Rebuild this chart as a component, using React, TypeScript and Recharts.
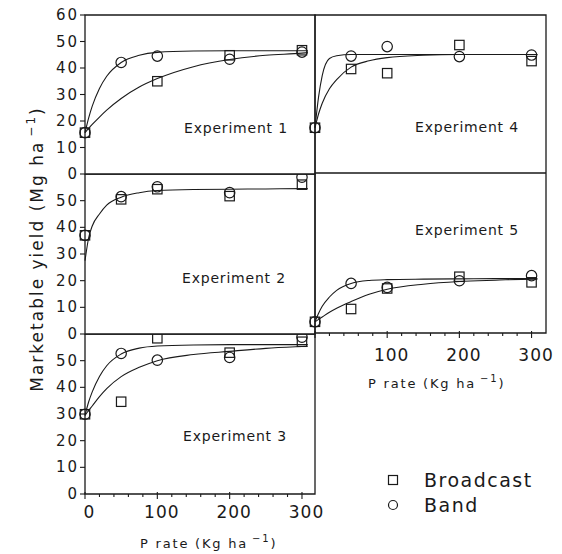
import React from 'react';
import { ComposedChart, Line, Scatter, XAxis, YAxis, ReferenceArea } from 'recharts';

const FONT = '"DejaVu Sans", Verdana, sans-serif';
const INK = '#1a1a1a';

// P rates (kg/ha) where yields were measured
const pRates = [0, 50, 100, 200, 300];

// Marketable yield (Mg/ha) — markers
const exp1Broadcast = [15.6, null, 35.0, 44.8, 46.7];
const exp1Band = [15.6, 42.1, 44.5, 43.3, 46.0];
const exp2Broadcast = [37.0, 50.5, 54.3, 51.7, 56.0];
const exp2Band = [37.0, 51.5, 55.2, 53.0, 58.8];
const exp3Broadcast = [29.9, 34.6, 58.4, 53.0, 57.1];
const exp3Band = [29.9, 52.7, 50.2, 51.2, 58.8];
const exp4Broadcast = [17.2, 39.5, 37.9, 48.6, 42.5];
const exp4Band = [17.2, 44.4, 48.0, 44.2, 44.8];
const exp5Broadcast = [4.2, 9.0, 16.7, 21.1, 19.0];
const exp5Band = [4.2, 18.6, 17.1, 19.6, 21.5];

// Fitted response curves
const curveRates = [0, 5, 10, 20, 30, 50, 75, 100, 150, 200, 250, 300, 308];
const exp1FitA = [15.6, 21.1, 25.6, 32.3, 36.9, 42.1, 44.8, 45.9, 46.4, 46.5, 46.5, 46.5, 46.5];
const exp1FitB = [15.6, 17.2, 18.7, 21.5, 24.1, 28.5, 32.8, 36.0, 40.5, 43.2, 44.8, 45.6, 45.8];
const exp2FitA = [27.5, 36.0, 40.5, 45.0, 48.3, 51.3, 53.0, 53.8, 54.2, 54.3, 54.4, 54.5, 54.5];
const exp3FitA = [29.5, 34.5, 38.3, 44.1, 48.1, 52.5, 54.7, 55.5, 55.9, 56.0, 56.0, 56.0, 56.0];
const exp3FitB = [29.5, 31.3, 33.0, 36.5, 39.5, 44.0, 47.5, 50.0, 52.3, 53.5, 54.6, 55.3, 55.4];
const exp4FitA = [17.2, 29.0, 37.0, 43.5, 44.5, 45.0, 45.0, 45.0, 45.0, 45.0, 45.0, 45.0, 45.0];
const exp4FitB = [17.2, 22.5, 26.5, 32.0, 35.5, 40.2, 42.6, 43.8, 44.7, 45.0, 45.0, 45.0, 45.0];
const exp5FitA = [4.2, 7.4, 10.0, 13.5, 16.0, 18.6, 19.7, 20.0, 20.2, 20.3, 20.4, 20.4, 20.4];
const exp5FitB = [4.2, 5.1, 6.0, 7.8, 9.3, 11.8, 14.5, 16.4, 18.3, 19.3, 19.8, 20.2, 20.2];

// Tick values
const xTicks = [0, 20, 40, 60, 80, 100, 120, 140, 160, 180, 200, 220, 240, 260, 280, 300];
const yTicksFull = [0, 10, 20, 30, 40, 50, 60];
const yTicksShort = [0, 10, 20, 30, 40, 50];
const experimentNames = ['Experiment 1', 'Experiment 2', 'Experiment 3', 'Experiment 4', 'Experiment 5'];
const legendNames = ['Broadcast', 'Band'];

const toPoints = (vals: (number | null)[]) =>
  pRates.map((x, i) => ({ x, y: vals[i] })).filter((p) => p.y != null);
const toCurve = (vals: number[]) => curveRates.map((x, i) => ({ x, y: vals[i] }));

const SquareMark = (props: any) => {
  const { cx, cy } = props;
  if (cx == null || cy == null) return null;
  return <rect x={cx - 4.7} y={cy - 4.7} width={9.4} height={9.4} fill="none" stroke={INK} strokeWidth={1.2} />;
};
const CircleMark = (props: any) => {
  const { cx, cy } = props;
  if (cx == null || cy == null) return null;
  return <circle cx={cx} cy={cy} r={5.2} fill="none" stroke={INK} strokeWidth={1.2} />;
};

const makeXTick = (showZero: boolean, labelDy: number) => (props: any) => {
  const { x, y, payload } = props;
  const base = y - 8;
  const v = payload.value;
  const major = v % 100 === 0;
  return (
    <g>
      <line x1={x} x2={x} y1={base - (major ? 2 : 0)} y2={base + (major ? 5 : 3)} stroke={INK} strokeWidth={1.1} />
      {major && (showZero || v !== 0) ? (
        <text
          x={x + 4.5}
          y={base + labelDy}
          textAnchor="middle"
          dominantBaseline="central"
          fontFamily={FONT}
          fontSize={17}
          fill={INK}
          style={{ letterSpacing: 1 }}
        >
          {v}
        </text>
      ) : null}
    </g>
  );
};

const YTick = (props: any) => {
  const { x, y, payload } = props;
  return (
    <text
      x={x}
      y={y}
      textAnchor="end"
      dominantBaseline="central"
      fontFamily={FONT}
      fontSize={15}
      fill={INK}
      style={{ letterSpacing: 2 }}
    >
      {payload.value}
    </text>
  );
};

type PanelProps = {
  left: number;
  top: number;
  width: number;
  height: number;
  margin: { top: number; right: number; bottom: number; left: number };
  xMax: number;
  yTicks: number[] | null;
  xAxis: { showZero: boolean; labelDy: number } | null;
  broadcast: (number | null)[];
  band: (number | null)[];
  fits: number[][];
};

const Panel = (p: PanelProps) => (
  <div style={{ position: 'absolute', left: p.left, top: p.top }}>
    <ComposedChart width={p.width} height={p.height} margin={p.margin}>
      {p.xAxis ? (
        <XAxis
          type="number"
          dataKey="x"
          domain={[0, p.xMax]}
          ticks={xTicks}
          interval={0}
          height={60}
          tickSize={6}
          tickMargin={2}
          axisLine={false}
          tickLine={false}
          tick={makeXTick(p.xAxis.showZero, p.xAxis.labelDy)}
        />
      ) : (
        <XAxis type="number" dataKey="x" domain={[0, p.xMax]} hide />
      )}
      {p.yTicks ? (
        <YAxis
          type="number"
          domain={[0, 60]}
          ticks={p.yTicks}
          interval={0}
          width={85}
          tickSize={5}
          tickMargin={1}
          axisLine={false}
          tickLine={{ stroke: INK, strokeWidth: 1.1 }}
          tick={YTick}
        />
      ) : (
        <YAxis type="number" domain={[0, 60]} hide />
      )}
      <ReferenceArea x1={0} x2={p.xMax} y1={0} y2={60} fill="none" fillOpacity={0} stroke={INK} strokeWidth={1.3} />
      {p.fits.map((f, i) => (
        <Line
          key={i}
          data={toCurve(f)}
          dataKey="y"
          type="monotone"
          stroke={INK}
          strokeWidth={1.1}
          dot={false}
          activeDot={false}
          isAnimationActive={false}
        />
      ))}
      <Scatter data={toPoints(p.broadcast)} dataKey="y" shape={SquareMark} isAnimationActive={false} />
      <Scatter data={toPoints(p.band)} dataKey="y" shape={CircleMark} isAnimationActive={false} />
    </ComposedChart>
  </div>
);

const leftMargin = (top: number, bottom = 0) => ({ top, right: 25, bottom, left: 0 });
const rightMargin = (top: number) => ({ top, right: 16, bottom: 0, left: 15 });

const textStyle = { fontFamily: FONT, fill: INK } as const;

const PRateTitle = ({ x, y }: { x: number; y: number }) => (
  <text x={x} y={y} dominantBaseline="central" fontSize={13} style={{ letterSpacing: 1.8 }} {...textStyle}>
    P rate (Kg ha
    <tspan dx={4} dy={-5} fontSize={10}>
      −1
    </tspan>
    <tspan dy={5}>)</tspan>
  </text>
);

export default function App() {
  const labelPos = [
    [184, 128],
    [182, 278],
    [183, 436],
    [415, 127],
    [415, 230],
  ];
  return (
    <div style={{ position: 'absolute', left: 0, top: 0, width: 562, height: 554, background: '#fff', overflow: 'hidden' }}>
      <Panel left={0} top={0} width={340} height={186} margin={leftMargin(15, 12)} xMax={318} yTicks={yTicksFull} xAxis={null}
        broadcast={exp1Broadcast} band={exp1Band} fits={[exp1FitA, exp1FitB]} />
      <Panel left={0} top={174} width={340} height={172} margin={leftMargin(0, 12)} xMax={318} yTicks={yTicksShort} xAxis={null}
        broadcast={exp2Broadcast} band={exp2Band} fits={[exp2FitA]} />
      <Panel left={0} top={334} width={340} height={220} margin={leftMargin(0)} xMax={318} yTicks={yTicksShort}
        xAxis={{ showZero: true, labelDy: 18 }}
        broadcast={exp3Broadcast} band={exp3Band} fits={[exp3FitA, exp3FitB]} />
      <Panel left={300} top={0} width={262} height={173} margin={rightMargin(15)} xMax={320} yTicks={null} xAxis={null}
        broadcast={exp4Broadcast} band={exp4Band} fits={[exp4FitA, exp4FitB]} />
      <Panel left={300} top={173} width={262} height={220} margin={rightMargin(0)} xMax={320} yTicks={null}
        xAxis={{ showZero: false, labelDy: 22 }}
        broadcast={exp5Broadcast} band={exp5Band} fits={[exp5FitA, exp5FitB]} />

      <svg width={562} height={554} style={{ position: 'absolute', left: 0, top: 0, pointerEvents: 'none' }}>
        {experimentNames.map((n, i) => (
          <text key={n} x={labelPos[i][0]} y={labelPos[i][1]} dominantBaseline="central" fontSize={14}
            style={{ letterSpacing: 0.8 }} {...textStyle}>
            {n}
          </text>
        ))}
        <PRateTitle x={140} y={543} />
        <PRateTitle x={368} y={383} />
        <text transform="translate(37,249) rotate(-90)" x={0} y={0} textAnchor="middle" dominantBaseline="central"
          fontSize={17} style={{ letterSpacing: 2 }} {...textStyle}>
          Marketable yield (Mg ha
          <tspan dx={4} dy={-6} fontSize={12}>
            −1
          </tspan>
          <tspan dy={6}>)</tspan>
        </text>
        <rect x={388.5} y={475.5} width={9} height={9} fill="none" stroke={INK} strokeWidth={1.2} />
        <circle cx={393} cy={505} r={4.5} fill="none" stroke={INK} strokeWidth={1.2} />
        <text x={424} y={480} dominantBaseline="central" fontSize={19} style={{ letterSpacing: 1.5 }} {...textStyle}>
          {legendNames[0]}
        </text>
        <text x={424} y={505} dominantBaseline="central" fontSize={19} style={{ letterSpacing: 1.5 }} {...textStyle}>
          {legendNames[1]}
        </text>
      </svg>
    </div>
  );
}
